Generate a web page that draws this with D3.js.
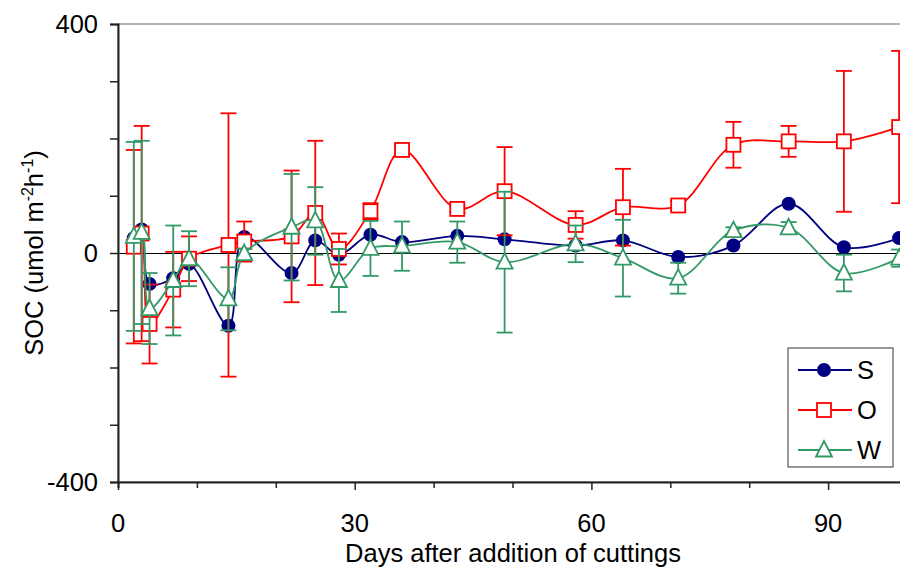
<!DOCTYPE html>
<html>
<head>
<meta charset="utf-8">
<script src="https://cdn.jsdelivr.net/npm/d3@7"></script>
<style>
  body { margin: 0; background: #fff; }
  svg { font-family: "Liberation Sans", Arial, sans-serif; }
</style>
</head>
<body>
<svg id="chart" width="900" height="570"></svg>
<script>
// days after addition of cuttings
var days = [2, 3, 4, 7, 9, 14, 16, 22, 25, 28, 32, 36, 43, 49, 58, 64, 71, 78, 85, 92, 99];
var sValues = [26, 41, -54, -44, -19, -127, 28, -35, 22, -3, 32, 19, 30, 24, 13, 22, -7, 13, 86, 10, 26];
var oValues = [11, 34, -124, -64, -10, 14, 20, 29, 70, 7, 73, 180, 77, 108, 49, 80, 83, 189, 195, 195, 220];
var oErrors = [169, 188, 69, 66, 39, 230, 35, 115, 126, 27, 14, 9, 6, 77, 24, 67, 8, 40, 27, 123, 133];
var wValues = [29, 36, -97, -48, -10, -80, -1, 45, 56, -48, 8, 12, 19, -16, 16, -9, -44, 39, 44, -35, -9];
var wErrors = [165, 160, 62, 96, 48, 55, 8, 93, 59, 55, 48, 43, 36, 123, 32, 67, 27, 6, 10, 32, 15];
var seriesNames = ["S", "O", "W"];
var xTickLabels = [0, 30, 60, 90];
var yTickLabels = [-400, 0, 400];

var margin = {top: 24, right: -7, bottom: 88, left: 118};
var width = 900, height = 570;

var svg = d3.select("#chart");

var x = d3.scaleLinear().domain([0, 100]).range([margin.left, width - margin.right]);
var y = d3.scaleLinear().domain([-400, 400]).range([height - margin.bottom, margin.top]);

var series = [
  {name: "S", values: sValues, errors: null, color: "#000080", marker: "circle"},
  {name: "O", values: oValues, errors: oErrors, color: "#ff0000", marker: "square"},
  {name: "W", values: wValues, errors: wErrors, color: "#339966", marker: "triangle"}
];

// plot box
svg.append("rect")
    .attr("x", x(0)).attr("y", y(400))
    .attr("width", x(100) - x(0)).attr("height", y(-400) - y(400))
    .attr("fill", "none").attr("stroke", "#999").attr("stroke-width", 1.5);

// zero line
svg.append("line")
    .attr("x1", x(0)).attr("x2", x(100))
    .attr("y1", y(0) + 0.5).attr("y2", y(0) + 0.5)
    .attr("stroke", "#000").attr("stroke-width", 1.5)
    .attr("shape-rendering", "crispEdges");

// axes
var xAxis = svg.append("g")
    .attr("transform", `translate(0,${y(-400)})`)
    .call(d3.axisBottom(x).tickValues(d3.range(0, 101, 10)).tickSize(6).tickFormat(""));
xAxis.selectAll(".tick line").attr("stroke", "#222").attr("stroke-width", 1.5)
    .attr("y2", d => d % 30 == 0 ? 8 : 6);
xAxis.select(".domain").attr("stroke", "#222").attr("stroke-width", 2);

var yAxis = svg.append("g")
    .attr("transform", `translate(${x(0)},0)`)
    .call(d3.axisLeft(y).tickValues(d3.range(-400, 401, 100)).tickSize(8).tickFormat(""));
yAxis.selectAll(".tick line").attr("stroke", "#222").attr("stroke-width", 1.5);
yAxis.select(".domain").attr("stroke", "#222").attr("stroke-width", 2);

svg.append("g").selectAll("text").data(xTickLabels).join("text")
    .attr("x", d => x(d)).attr("y", 532)
    .attr("text-anchor", "middle")
    .attr("font-size", 25.5)
    .text(d => d);

svg.append("g").selectAll("text").data(yTickLabels).join("text")
    .attr("x", 98).attr("y", d => y(d))
    .attr("dy", "0.36em")
    .attr("text-anchor", "end")
    .attr("font-size", 25.5)
    .text(d => d);

// axis titles
svg.append("text")
    .attr("x", 513).attr("y", 562)
    .attr("text-anchor", "middle")
    .attr("font-size", 25.5)
    .text("Days after addition of cuttings");

var yTitle = svg.append("text")
    .attr("transform", "translate(43,253) rotate(-90)")
    .attr("text-anchor", "middle")
    .attr("font-size", 25.5);
yTitle.append("tspan").text("SOC (umol m");
yTitle.append("tspan").attr("font-size", 16).attr("dy", -10).text("-2");
yTitle.append("tspan").attr("dy", 10).text("h");
yTitle.append("tspan").attr("font-size", 16).attr("dy", -10).text("-1");
yTitle.append("tspan").attr("dy", 10).text(")");

var line = d3.line()
    .x(d => x(d.day))
    .y(d => y(d.value))
    .curve(d3.curveCatmullRom.alpha(0.5));

function drawMarker(g, s, cx, cy) {
  if (s.marker == "circle") {
    g.append("circle").attr("cx", cx).attr("cy", cy).attr("r", 7)
      .attr("fill", s.color);
  } else if (s.marker == "square") {
    g.append("rect").attr("x", cx - 7).attr("y", cy - 7)
      .attr("width", 14).attr("height", 14)
      .attr("fill", "#fff").attr("stroke", s.color).attr("stroke-width", 1.8);
  } else {
    g.append("path")
      .attr("d", `M${cx},${cy - 9}L${cx + 8},${cy + 6.5}L${cx - 8},${cy + 6.5}Z`)
      .attr("fill", "#fff").attr("stroke", s.color).attr("stroke-width", 1.8);
  }
}

var plot = svg.append("g");

series.forEach(function(s) {
  var pts = days.map((d, i) => ({day: d, value: s.values[i], err: s.errors ? s.errors[i] : 0}));
  var g = plot.append("g");

  if (s.errors) {
    var eb = g.append("g").attr("stroke", s.color).attr("stroke-width", 1.8);
    pts.forEach(function(p) {
      var top = y(p.value + p.err), bot = y(p.value - p.err), px = x(p.day);
      eb.append("line").attr("x1", px).attr("x2", px).attr("y1", top).attr("y2", bot);
      eb.append("line").attr("x1", px - 8).attr("x2", px + 8).attr("y1", top).attr("y2", top);
      eb.append("line").attr("x1", px - 8).attr("x2", px + 8).attr("y1", bot).attr("y2", bot);
    });
  }

  g.append("path")
    .datum(pts)
    .attr("d", line)
    .attr("fill", "none")
    .attr("stroke", s.color)
    .attr("stroke-width", 1.8);

  pts.forEach(p => drawMarker(g, s, x(p.day), y(p.value)));
});

// legend
var legend = svg.append("g").attr("transform", "translate(788,348)");
legend.append("rect")
    .attr("width", 105).attr("height", 119)
    .attr("fill", "#fff").attr("stroke", "#333").attr("stroke-width", 1);
series.forEach(function(s, i) {
  var ly = 22 + i * 40;
  legend.append("line")
    .attr("x1", 10).attr("x2", 64).attr("y1", ly).attr("y2", ly)
    .attr("stroke", s.color).attr("stroke-width", 1.8);
  drawMarker(legend, s, 36, ly);
  legend.append("text")
    .attr("x", 69).attr("y", ly).attr("dy", "0.36em")
    .attr("font-size", 25.5)
    .text(seriesNames[i]);
});
</script>
</body>
</html>
